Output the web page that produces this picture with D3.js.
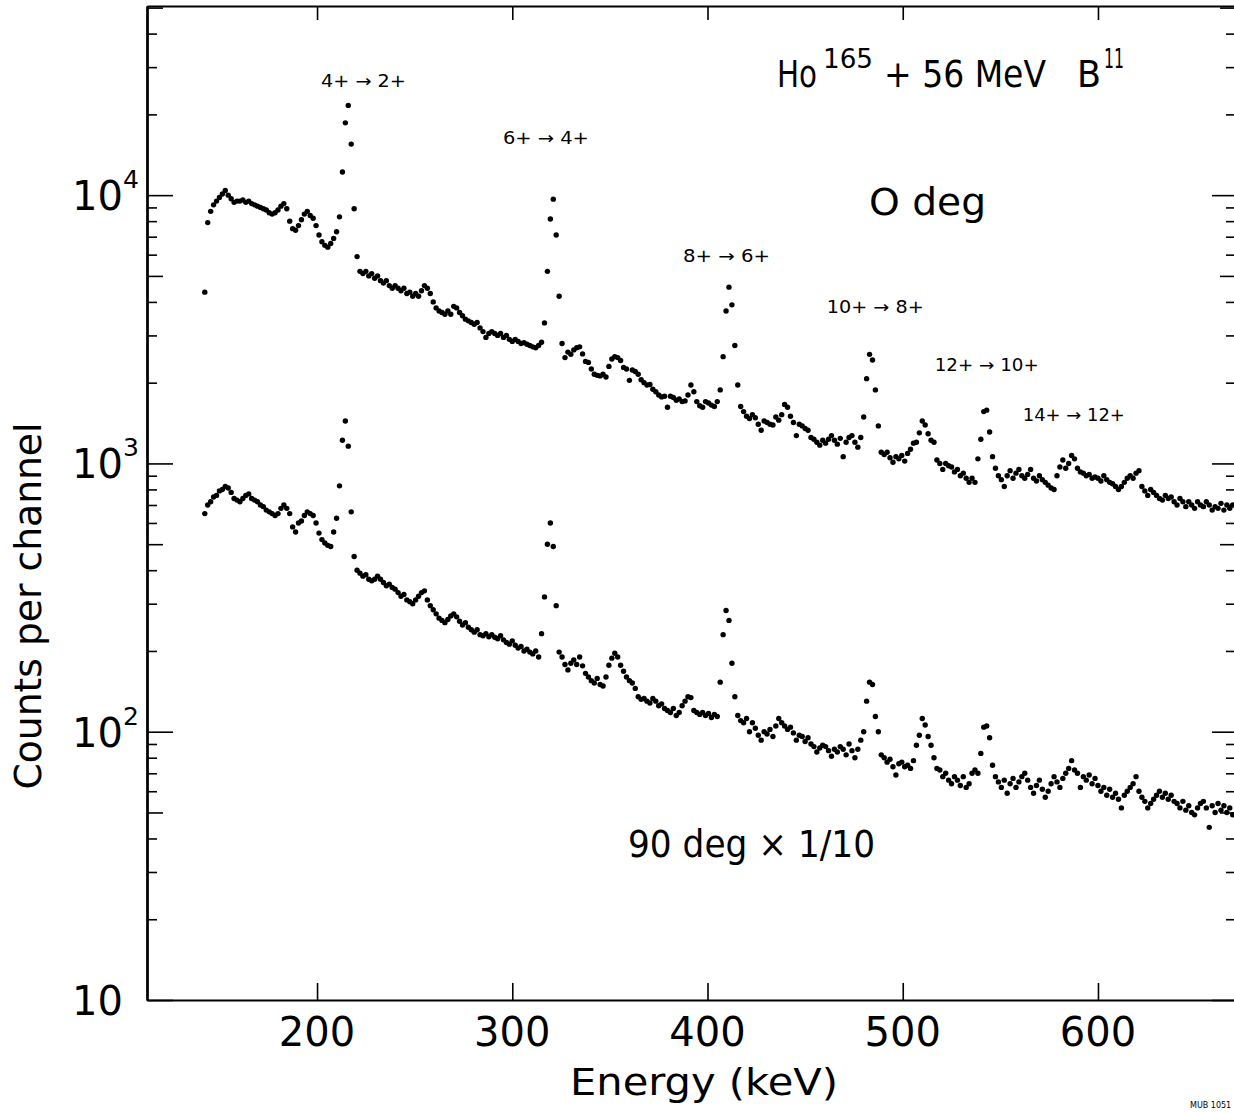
<!DOCTYPE html>
<html>
<head>
  <meta charset="utf-8">
  <title>Ho165 + 56 MeV B11 gamma spectrum</title>
  <script src="https://d3js.org/d3.v7.min.js"></script>
  <style>
    body { margin: 0; background: #fff; }
    svg { display: block; background: #fff; font-family: "DejaVu Sans", sans-serif; }
    .axis path { stroke: #000; stroke-width: 2px; }
    .axis line { stroke: #000; stroke-width: 1.6px; }
    .dot { fill: #000; }
    text { fill: #000; }
  </style>
</head>
<body>
  <svg id="chart" width="1234" height="1113"></svg>

  <script>
    // spectrum: one value per channel, channels start at energyStart (keV)
    const energyStart = 142.5;
    const channelWidth = 1.5;

    // 0 deg detector, counts per channel
    const counts0deg = [
      4350, 7900, 8700, 9200, 9500, 9800, 10100, 10400, 10000, 9700,
      9400, 9500, 9500, 9600, 9400, 9500, 9300, 9200, 9100, 9000,
      8900, 8800, 8600, 8500, 8600, 8800, 9100, 9300, 8900, 8000,
      7500, 7400, 7700, 8100, 8500, 8700, 8400, 8200, 7700, 7100,
      6700, 6500, 6400, 6600, 6900, 7300, 8300, 12200, 18600, 21600,
      15500, 8900, 5900, 5200, 5100, 5200, 5000, 5100, 4900, 5000,
      4800, 4700, 4800, 4600, 4500, 4600, 4500, 4400, 4500, 4300,
      4350, 4200, 4300, 4200, 4400, 4600, 4500, 4300, 4000, 3800,
      3700, 3650, 3600, 3700, 3600, 3850, 3800, 3650, 3550, 3450,
      3400, 3350, 3300, 3350, 3200, 3100, 2950, 3050, 3100, 3050,
      3000, 3050, 2950, 3000, 2900, 2850, 2900, 2850, 2800, 2820,
      2780, 2750, 2720, 2700, 2750, 2830, 3340, 5200, 8150, 9660,
      7100, 4200, 2800, 2480, 2600, 2550, 2650, 2700, 2720, 2560,
      2400, 2380, 2250, 2150, 2130, 2120, 2150, 2100, 2300, 2450,
      2500, 2480, 2420, 2280, 2250, 2040, 2230, 2200, 2150, 2050,
      2000, 1960, 1970, 1890, 1850, 1800, 1770, 1780, 1620, 1780,
      1760, 1720, 1740, 1700, 1710, 1800, 1960, 1850, 1700, 1640,
      1620, 1700, 1680, 1650, 1630, 1700, 1880, 2500, 3700, 4540,
      3900, 2750, 1960, 1630, 1560, 1500, 1470, 1520, 1480, 1400,
      1330, 1440, 1420, 1400, 1390, 1490, 1450, 1520, 1660, 1620,
      1500, 1420, 1270, 1400, 1380, 1350, 1330, 1250, 1230, 1200,
      1170, 1220, 1190, 1230, 1270, 1220, 1180, 1240, 1060, 1200,
      1250, 1270, 1200, 1150, 1250, 1490, 2070, 2550, 2430, 1880,
      1380, 1100, 1080, 1100, 1050, 1010, 1060, 1040, 1070, 1020,
      1090, 1130, 1190, 1200, 1300, 1440, 1390, 1290, 1220, 1200,
      1030, 1000, 950, 1000, 980, 970, 930, 950, 900, 920,
      880, 850, 880, 850, 1040, 1230, 1560, 1580, 1310, 1060,
      960, 900, 870, 820, 900, 940, 880, 920, 950, 900,
      880, 910, 950, 880, 860, 900, 870, 850, 830, 810,
      800, 900, 970, 1030, 960, 1000, 1070, 1040, 960, 930,
      920, 900, 910, 880, 890, 880, 860, 900, 870, 850,
      840, 820, 800, 820, 850, 880, 900, 880, 920, 940,
      820, 790, 760, 800, 780, 760, 740, 730, 760, 740,
      750, 720, 700, 740, 720, 690, 720, 700, 680, 720,
      700, 690, 720, 700, 670, 690, 680, 710, 670, 700,
      680, 700
    ];

    // 90 deg detector, counts per channel already multiplied by 1/10
    const counts90deg = [
      650, 700, 720, 750, 760, 790, 800, 820, 810, 780,
      740, 730, 720, 740, 760, 770, 740, 730, 720, 700,
      690, 670, 660, 650, 640, 650, 680, 700, 680, 650,
      580, 555, 600, 610, 640, 660, 650, 640, 600, 550,
      520, 505, 495, 490, 555, 625, 825, 1220, 1440, 1160,
      660, 450, 400, 390, 380, 385, 370, 365, 370, 380,
      370, 360, 350, 355, 345, 340, 330, 320, 325, 310,
      305, 300, 310, 320, 330, 335, 310, 295, 285, 275,
      265, 260, 255, 262, 270, 275, 268, 258, 250, 255,
      245, 240, 235, 240, 230, 228, 232, 226, 230, 225,
      222, 228, 220, 215, 212, 218, 210, 205, 208, 200,
      203, 198, 195, 200, 190, 232, 318, 500, 600, 490,
      295, 198, 190, 178, 170, 180, 185, 178, 190, 176,
      165, 160, 155, 152, 158, 150, 148, 160, 177, 188,
      196, 190, 177, 168, 160, 155, 152, 145, 135, 132,
      133, 130, 128, 133, 130, 125, 127, 122, 120, 118,
      122, 115, 118, 125, 130, 135, 134, 120, 118, 116,
      118, 115, 117, 113, 116, 114, 153, 230, 283, 260,
      180, 135, 115, 110, 108, 112, 100, 108, 103, 97,
      93, 100, 98, 102, 96, 105, 112, 108, 105, 102,
      104, 99, 93, 97, 96, 92, 95, 90, 88, 84,
      87, 89, 88, 85, 81, 86, 84, 88, 86, 82,
      90, 85, 80, 86, 93, 100, 130, 153, 150, 114,
      100, 82, 80, 77, 79, 74, 69, 76, 77, 74,
      75, 73, 78, 89, 97, 112, 106, 96, 89, 80,
      73, 72, 68, 70, 66, 64, 68, 66, 63, 68,
      62, 64, 70, 72, 70, 83, 104, 105, 95, 75,
      68, 65, 62, 66, 59, 64, 67, 62, 65, 68,
      70, 66, 62, 59, 63, 66, 61, 57, 60, 64,
      68, 65, 62, 67, 70, 73, 78, 72, 70, 62,
      68, 66, 69, 64, 67, 63, 60, 62, 58, 61,
      57, 59, 56, 52, 58, 60, 62, 64, 68, 60,
      57, 55, 52, 54, 56, 58, 60, 57, 59, 56,
      58, 55, 54, 52, 55, 51, 53, 50, 49, 52,
      54, 55, 52, 44, 53, 50, 54, 51, 53, 50,
      52, 49
    ];

    const energyTicks = [200, 300, 400, 500, 600];
    const decadeTicks = [10, 100, 1000, 10000];
    const decadeExponents = ["", "2", "3", "4"];
    const minorSteps = [2, 3, 4, 6, 7, 8, 9];
    const halfStep = 5;

    const transitionLabels = ["4+ \u2192 2+", "6+ \u2192 4+", "8+ \u2192 6+",
      "10+ \u2192 8+", "12+ \u2192 10+", "14+ \u2192 12+"];


    const svg = d3.select("#chart");
    const plot = { left: 147, right: 1236, top: 6, bottom: 1000 };

    const x = d3.scaleLinear().domain([112.9, 670.7]).range([plot.left, plot.right]);
    const y = d3.scaleLog().domain([10, 50700]).range([plot.bottom, plot.top]);

    const energy = i => energyStart + i * channelWidth;

    // tick values inside the y range
    const minorVals = [], halfVals = [];
    decadeTicks.forEach(d => {
      minorSteps.forEach(m => { if (d * m <= 50700) minorVals.push(d * m); });
      if (d * halfStep <= 50700) halfVals.push(d * halfStep);
    });

    // frame + ticks, drawn with d3 axes (labels added by hand below)
    const addAxis = (axis, tx, ty) => svg.append("g")
      .attr("class", "axis")
      .attr("transform", "translate(" + tx + "," + ty + ")")
      .call(axis.tickFormat("").tickSizeOuter(0));

    addAxis(d3.axisBottom(x).tickValues(energyTicks).tickSize(-17), 0, plot.bottom);
    addAxis(d3.axisTop(x).tickValues(energyTicks).tickSize(-14), 0, plot.top);

    addAxis(d3.axisLeft(y).tickValues(decadeTicks).tickSize(-26), plot.left, 0);
    addAxis(d3.axisLeft(y).tickValues(halfVals).tickSize(-16), plot.left, 0);
    addAxis(d3.axisLeft(y).tickValues(minorVals).tickSize(-10), plot.left, 0);

    addAxis(d3.axisRight(y).tickValues(decadeTicks).tickSize(-24), plot.right, 0);
    addAxis(d3.axisRight(y).tickValues(halfVals).tickSize(-16), plot.right, 0);
    addAxis(d3.axisRight(y).tickValues(minorVals).tickSize(-10), plot.right, 0);

    svg.selectAll(".axis .domain").attr("fill", "none");

    // the two spectra
    [counts0deg, counts90deg].forEach(series => {
      svg.append("g").selectAll("circle").data(series)
        .join("circle")
        .attr("class", "dot")
        .attr("r", 2.7)
        .attr("cx", (d, i) => x(energy(i)))
        .attr("cy", d => y(d));
    });

    // x tick labels
    svg.append("g").selectAll("text").data(energyTicks)
      .join("text")
      .attr("x", d => x(d))
      .attr("y", 1046)
      .attr("text-anchor", "middle")
      .attr("font-size", 40)
      .text(d => d);

    // y tick labels: 10, 10^2, 10^3, 10^4
    const yLab = svg.append("g").selectAll("g").data(decadeTicks).join("g");
    yLab.append("text")
      .attr("x", 72)
      .attr("y", d => y(d) + 15)
      .attr("font-size", 40)
      .text("10");
    yLab.append("text")
      .attr("x", 123)
      .attr("y", d => y(d) - 7)
      .attr("font-size", 25)
      .text((d, i) => decadeExponents[i]);

    // axis titles
    svg.append("text")
      .attr("x", 704).attr("y", 1095)
      .attr("text-anchor", "middle")
      .attr("font-size", 38)
      .attr("textLength", 268)
      .attr("lengthAdjust", "spacingAndGlyphs")
      .text("Energy  (keV)");

    svg.append("text")
      .attr("transform", "translate(41,606) rotate(-90)")
      .attr("text-anchor", "middle")
      .attr("font-size", 38)
      .attr("textLength", 367)
      .attr("lengthAdjust", "spacingAndGlyphs")
      .text("Counts per channel");

    // title: Ho165 + 56 MeV B11
    const title = svg.append("g");
    const put = (g, t, tx, ty, size, len) => g.append("text")
      .attr("x", tx).attr("y", ty)
      .attr("font-size", size)
      .attr("textLength", len)
      .attr("lengthAdjust", "spacingAndGlyphs")
      .text(t);
    put(title, "Ho", 777, 87, 37, 40);
    put(title, "165", 823, 68, 26, 50);
    put(title, "+ 56 MeV", 884, 87, 37, 162);
    put(title, "B", 1077, 87, 37, 24);
    put(title, "11", 1104, 68, 26, 20);

    put(svg, "O  deg", 869, 215, 37, 117);
    put(svg, "90 deg \u00d7 1/10", 628, 857, 37, 247);

    // transition labels, placed at energy / counts positions
    const labelSpots = [
      [202.0, 25300, 85], [295.2, 15500, 86], [387.4, 5640, 87],
      [461.1, 3640, 97], [516.4, 2210, 104], [561.5, 1440, 102]
    ];
    svg.append("g").selectAll("text").data(transitionLabels)
      .join("text")
      .attr("x", (d, i) => x(labelSpots[i][0]))
      .attr("y", (d, i) => y(labelSpots[i][1]))
      .attr("font-size", 17)
      .attr("textLength", (d, i) => labelSpots[i][2])
      .attr("lengthAdjust", "spacingAndGlyphs")
      .text(d => d);

    svg.append("text")
      .attr("x", 1190).attr("y", 1108)
      .attr("font-size", 8)
      .text("MUB 1051");
  </script>
</body>
</html>
